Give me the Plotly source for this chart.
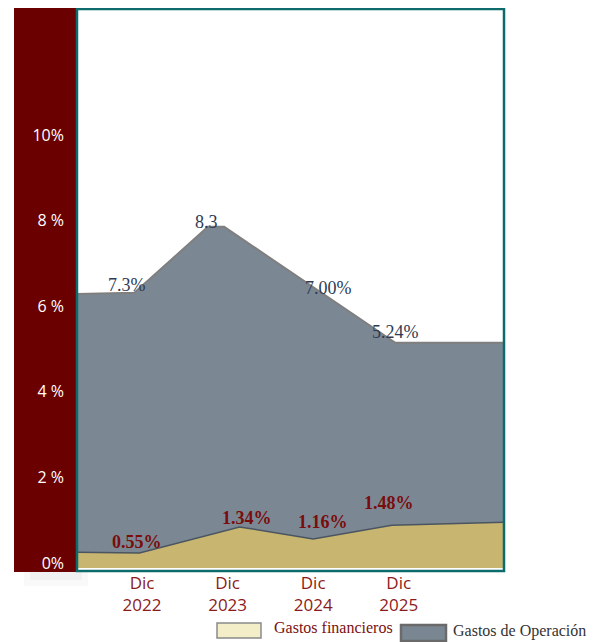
import plotly.graph_objects as go

# ---- data ----
categories = ["Dic<br>2022", "Dic<br>2023", "Dic<br>2024", "Dic<br>2025"]
cat_pos = [0, 1, 2, 3]

# Gastos de Operación (area outline vertices)
op_x = [-0.76, -0.09, 0.77, 0.96, 2.96, 4.23]
op_y = [6.40, 6.43, 7.97, 7.97, 5.26, 5.26]

# Gastos financieros (area outline vertices)
fin_x = [-0.76, -0.03, 1.14, 2.0, 2.92, 4.23]
fin_y = [0.37, 0.35, 0.96, 0.68, 1.00, 1.07]

op_labels = ["7.3%", "8.3", "7.00%", "5.24%"]
op_label_x = [-0.175, 0.758, 2.18, 2.96]
op_label_y = [6.61, 8.08, 6.54, 5.51]

fin_labels = ["0.55%", "1.34%", "1.16%", "1.48%"]
fin_label_x = [-0.058, 1.225, 2.11, 2.89]
fin_label_y = [0.61, 1.17, 1.07, 1.52]

y_ticks = [0, 2, 4, 6, 8, 10]
y_ticktext = ["0%", "2 %", "4 %", "6 %", "8 %", "10%"]

# ---- figure ----
fig = go.Figure()
fig.add_trace(go.Scatter(
    x=op_x, y=op_y, mode="lines", fill="tozeroy",
    fillcolor="#7B8894", line=dict(color="#7f7f7f", width=2),
    name="Gastos de Operación", showlegend=False, hoverinfo="skip"))
fig.add_trace(go.Scatter(
    x=fin_x, y=fin_y, mode="lines", fill="tozeroy",
    fillcolor="#C8B570", line=dict(color="#4A5561", width=1.5),
    name="Gastos financieros", showlegend=False, hoverinfo="skip"))

annotations = []
for t, x, y in zip(op_labels, op_label_x, op_label_y):
    annotations.append(dict(x=x, y=y, xref="x", yref="y", text=t, showarrow=False,
                            font=dict(family="Liberation Serif", size=18, color="#2E3B55")))
for t, x, y in zip(fin_labels, fin_label_x, fin_label_y):
    annotations.append(dict(x=x, y=y, xref="x", yref="y", text="<b>" + t + "</b>", showarrow=False,
                            font=dict(family="Liberation Serif", size=18, color="#7A0C0C")))

# page has an 8px body offset; work in page pixels and convert
OFF = 8
W, H = 589, 634
ml, mr, mt, mb = 69, 93, 1, 71
pw, ph = W - ml - mr, H - mt - mb
def px(xp):
    return (xp - OFF - ml) / pw
def py(yp):
    return (H - mb - (yp - OFF)) / ph

annotations.append(dict(x=px(272), y=py(627), xref="paper", yref="paper", xanchor="left",
                        yanchor="middle", text="Gastos financieros", showarrow=False,
                        font=dict(family="Liberation Serif", size=16, color="#7A1010")))
annotations.append(dict(x=px(451), y=py(631), xref="paper", yref="paper", xanchor="left",
                        yanchor="middle", text="Gastos de Operación", showarrow=False,
                        font=dict(family="Liberation Serif", size=16, color="#333333")))

shapes = [
    # soft shadow under the maroon band
    dict(type="rect", xref="paper", yref="paper", x0=px(24), x1=px(88), y0=py(586), y1=py(572),
         fillcolor="rgba(0,0,0,0.025)", line=dict(width=0), layer="below"),
    dict(type="rect", xref="paper", yref="paper", x0=px(30), x1=px(82), y0=py(580), y1=py(572),
         fillcolor="rgba(0,0,0,0.03)", line=dict(width=0), layer="below"),
    # maroon band
    dict(type="rect", xref="paper", yref="paper", x0=px(14), x1=px(76), y0=py(572), y1=py(7),
         fillcolor="#6B0000", line=dict(width=0), layer="below"),
    # plot frame
    dict(type="rect", xref="paper", yref="paper", x0=0, x1=1, y0=0, y1=1,
         fillcolor="rgba(0,0,0,0)", line=dict(color="#0E6B6B", width=2.5), layer="above"),
    # legend swatches
    dict(type="rect", xref="paper", yref="paper", x0=px(217), x1=px(261), y0=py(638), y1=py(623),
         fillcolor="#F3EDC8", line=dict(color="#8A8A8A", width=1.5)),
    dict(type="rect", xref="paper", yref="paper", x0=px(401), x1=px(446), y0=py(641), y1=py(625),
         fillcolor="#7A8793", line=dict(color="#6A6A6A", width=2.5)),
]

fig.update_layout(
    width=W, height=H,
    margin=dict(l=ml, r=mr, t=mt, b=mb, pad=0),
    paper_bgcolor="white", plot_bgcolor="white",
    annotations=annotations, shapes=shapes,
    xaxis=dict(range=[-0.76, 4.23], tickvals=cat_pos, ticktext=categories,
               showgrid=False, zeroline=False, showline=False, ticks="",
               tickfont=dict(family="Liberation Sans Narrow, Open Sans", size=17, color="#8B1A1A")),
    yaxis=dict(range=[-0.07, 13.06], tickvals=y_ticks, ticktext=y_ticktext,
               showgrid=False, zeroline=False, showline=False, ticks="",
               ticklabelshift=-5, ticklabelstandoff=12,
               tickfont=dict(family="Open Sans", size=16, color="white")),
)

fig.write_html("out.html")
